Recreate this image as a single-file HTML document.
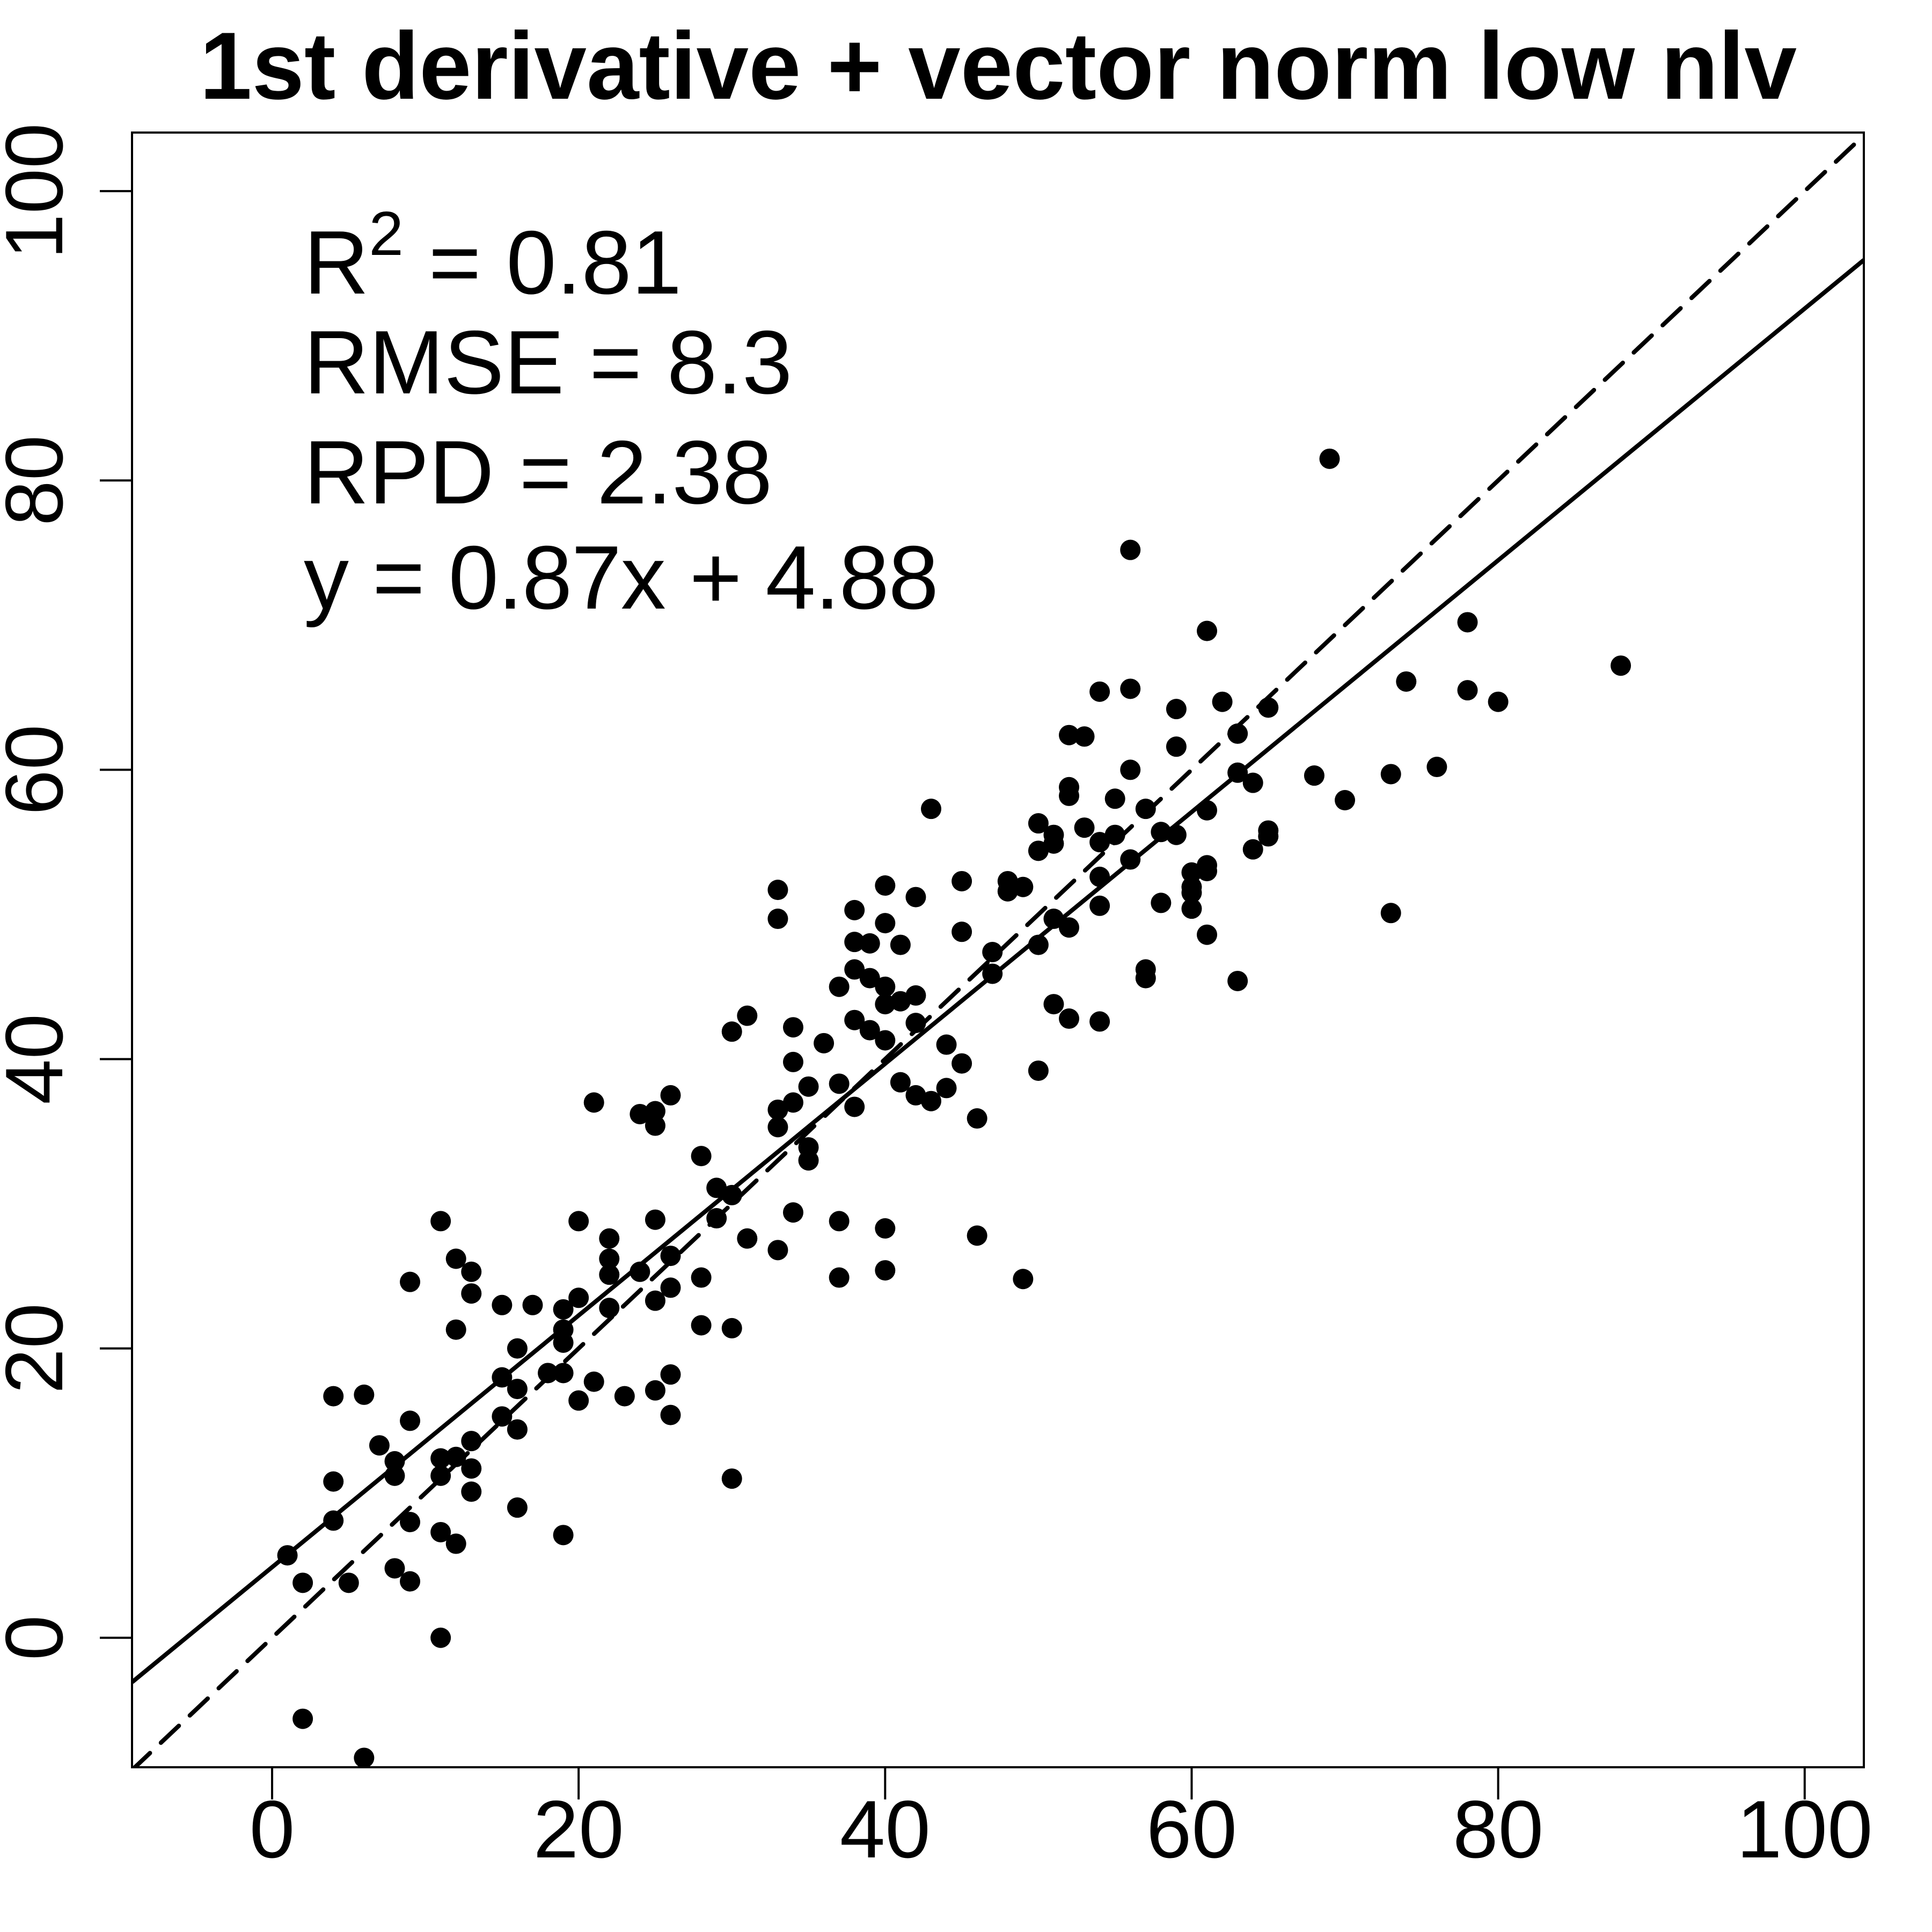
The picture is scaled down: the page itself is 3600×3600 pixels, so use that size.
<!DOCTYPE html>
<html><head><meta charset="utf-8"><style>html,body{margin:0;padding:0;background:#fff}svg{display:block}</style></head>
<body>
<svg id="chart" width="3600" height="3600" viewBox="0 0 3600 3600" xmlns="http://www.w3.org/2000/svg" font-family="Liberation Sans, Arial, sans-serif">
<rect x="0" y="0" width="3600" height="3600" fill="#fff"/>
<text x="1860" y="184" font-size="178" font-weight="bold" text-anchor="middle" textLength="2976" lengthAdjust="spacingAndGlyphs">1st derivative + vector norm low nlv</text>
<g id="plot"></g>
<g font-size="168">
<text x="566" y="547">R<tspan font-size="116" dy="-72">2</tspan><tspan dy="72"> = 0.81</tspan></text>
<text x="566" y="733">RMSE = 8.3</text>
<text x="566" y="938">RPD = 2.38</text>
<text x="566" y="1134" textLength="1183" lengthAdjust="spacing">y = 0.87x + 4.88</text>
</g>
</svg>
<script>
const xVals=[1,2,2,4,4,4,5,6,6,7,8,8,8,9,9,9,9,11,11,11,11,11,12,12,12,12,13,13,13,13,13,15,15,15,16,16,16,16,17,18,19,19,19,19,19,20,20,20,21,21,22,22,22,22,23,24,24,25,25,25,25,25,26,26,26,26,26,28,28,28,29,29,30,30,30,30,31,31,33,33,33,33,33,34,34,34,34,35,35,35,36,37,37,37,37,38,38,38,38,38,39,39,39,40,40,40,40,40,40,40,41,41,41,42,42,42,42,43,43,44,44,45,45,45,46,46,47,47,48,48,49,49,50,50,50,50,51,51,51,51,52,52,52,52,52,53,53,54,54,54,54,54,55,55,56,56,56,56,57,57,57,58,58,59,59,59,60,60,60,60,61,61,61,61,61,62,63,63,63,64,64,65,65,65,68,69,70,73,73,74,76,78,78,80,88];
const yVals=[5.7,3.8,-5.6,16.7,10.8,8.1,3.8,16.8,-8.3,13.3,12.2,11.2,4.8,24.6,15,8,3.9,28.8,12.4,11.2,7.3,0,26.2,21.3,12.5,6.5,25.3,23.8,13.6,11.7,10.1,23,18,15.3,20,17.2,14.4,9,23,18.3,22.7,21.3,20.4,18.3,7.1,28.8,23.5,16.4,37,17.7,27.6,26.2,25.1,22.8,16.7,36.2,25.3,36.4,35.4,28.9,23.3,17.1,37.5,26.4,24.2,18.2,15.4,33.3,24.9,21.6,31.1,29,41.9,30.6,21.4,11,43,27.6,51.7,49.7,36.5,35.3,26.8,42.2,39.8,37,29.4,38.1,33.9,33,41.1,45,38.3,28.8,24.9,50.3,48.1,46.2,42.7,36.7,48,45.6,42,52,49.4,45,43.8,41.3,28.3,25.4,47.9,44,38.4,51.2,44.4,42.5,37.5,57.3,37.1,41,38,52.3,48.8,39.7,35.9,27.8,47.4,45.9,52.3,51.6,51.9,24.8,56.3,54.4,47.9,39.2,55.5,54.9,49.7,43.8,62.4,58.8,58.2,49.1,42.8,62.3,56,65.4,55,52.6,50.6,42.6,58,55.5,75.2,65.6,60,53.8,57.3,46.2,45.6,55.7,50.8,64.2,61.6,55.5,52.9,51.9,51.5,50.4,69.6,57.2,53.4,53,48.6,64.7,62.5,59.8,45.4,59.1,54.5,64.3,55.8,55.4,59.6,81.5,57.9,59.7,50.1,66.1,60.2,70.2,65.5,64.7,67.2];
const xTicks=[0,20,40,60,80,100];
const yTicks=[0,20,40,60,80,100];
const fitSlope=0.87, fitIntercept=4.88;

const L=246,R=3473,T=247,B=3293;
const xMin=-9.14,xMax=103.86,yMin=-8.95,yMax=104.05;
const sx=v=>L+(v-xMin)/(xMax-xMin)*(R-L);
const sy=v=>B-(v-yMin)/(yMax-yMin)*(B-T);
const NS="http://www.w3.org/2000/svg";
const g=document.getElementById('plot');
function mk(t,a){const e=document.createElementNS(NS,t);for(const k in a)e.setAttribute(k,a[k]);g.appendChild(e);return e;}

const defs=mk('defs',{});
const cp=document.createElementNS(NS,'clipPath');cp.setAttribute('id','clip');
const cr=document.createElementNS(NS,'rect');cr.setAttribute('x',L);cr.setAttribute('y',T);cr.setAttribute('width',R-L);cr.setAttribute('height',B-T);
cp.appendChild(cr);defs.appendChild(cp);

let e=mk('line',{x1:sx(xMin),y1:sy(xMin),x2:sx(xMax),y2:sy(xMax),stroke:'#000','stroke-width':8,'stroke-dasharray':'46 28','stroke-linecap':'round','clip-path':'url(#clip)'});


e=mk('line',{x1:sx(xMin),y1:sy(fitSlope*xMin+fitIntercept),x2:sx(xMax),y2:sy(fitSlope*xMax+fitIntercept),stroke:'#000','stroke-width':8,'clip-path':'url(#clip)'});



for(let i=0;i<xVals.length;i++){
  const c=mk('circle',{cx:sx(xVals[i]),cy:sy(yVals[i]),r:19,fill:'#000'});
  
  
}

e=mk('rect',{x:L,y:T,width:R-L,height:B-T,fill:'none',stroke:'#000','stroke-width':4});



xTicks.forEach(v=>{
  const t=mk('line',{x1:sx(v),y1:B,x2:sx(v),y2:B+60,stroke:'#000','stroke-width':4});
  
  
  const l=mk('text',{x:sx(v),y:3461,'font-size':152,'text-anchor':'middle'});
  l.textContent=v;
  
  
});
yTicks.forEach(v=>{
  const t=mk('line',{x1:L-60,y1:sy(v),x2:L,y2:sy(v),stroke:'#000','stroke-width':4});
  
  
  const l=mk('text',{x:0,y:0,'font-size':152,'text-anchor':'middle',transform:`translate(116,${sy(v)}) rotate(-90)`});
  l.textContent=v;
  
  
});
</script>
</body></html>
